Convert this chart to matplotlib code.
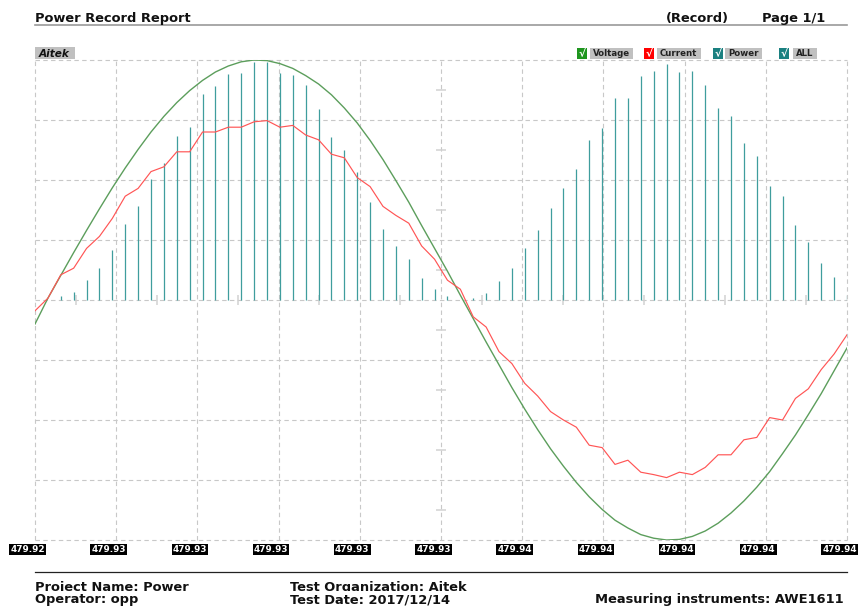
import numpy as np
import matplotlib
matplotlib.use("Agg")
import matplotlib.pyplot as plt
from matplotlib.patches import Rectangle
from matplotlib.lines import Line2D

# =========================
# Data (one cycle, 64 samples, values in grid divisions)
# =========================
voltage = [-0.40, 0.03, 0.41, 0.79, 1.16, 1.52, 1.87, 2.20, 2.51, 2.80,
           3.06, 3.29, 3.49, 3.66, 3.80, 3.90, 3.97, 4.00, 3.99, 3.94,
           3.86, 3.74, 3.60, 3.42, 3.20, 2.95, 2.66, 2.34, 1.99, 1.63,
           1.24, 0.86, 0.48, 0.08, -0.31, -0.70, -1.08, -1.46, -1.82, -2.16,
           -2.48, -2.77, -3.04, -3.28, -3.49, -3.67, -3.80, -3.91, -3.97, -4.00,
           -3.99, -3.94, -3.85, -3.72, -3.55, -3.35, -3.12, -2.86, -2.56, -2.25,
           -1.91, -1.56, -1.18, -0.80]

current = [-0.18, 0.03, 0.42, 0.53, 0.86, 1.06, 1.36, 1.73, 1.86, 2.14,
           2.22, 2.47, 2.47, 2.80, 2.80, 2.88, 2.88, 2.97, 2.99, 2.88,
           2.91, 2.75, 2.67, 2.43, 2.37, 2.04, 1.89, 1.56, 1.41, 1.28,
           0.90, 0.68, 0.33, 0.18, -0.28, -0.45, -0.86, -1.06, -1.39, -1.60,
           -1.86, -2.00, -2.12, -2.42, -2.46, -2.74, -2.67, -2.87, -2.91, -2.96,
           -2.87, -2.91, -2.79, -2.58, -2.58, -2.33, -2.29, -1.96, -2.00, -1.64,
           -1.48, -1.16, -0.90, -0.58]

power = [0.00, 0.00, 0.06, 0.13, 0.33, 0.54, 0.84, 1.27, 1.57, 2.02,
         2.29, 2.73, 2.89, 3.44, 3.57, 3.76, 3.79, 3.97, 3.97, 3.79,
         3.75, 3.58, 3.18, 2.71, 2.50, 2.14, 1.64, 1.18, 0.90, 0.68,
         0.37, 0.18, 0.06, 0.00, 0.04, 0.12, 0.32, 0.53, 0.86, 1.16,
         1.53, 1.87, 2.18, 2.66, 2.87, 3.36, 3.37, 3.73, 3.82, 3.93,
         3.80, 3.82, 3.58, 3.20, 3.07, 2.61, 2.40, 1.90, 1.74, 1.25,
         0.97, 0.62, 0.38, 0.08]

tick_labels = ["479.92", "479.93", "479.93", "479.93", "479.93", "479.93",
               "479.94", "479.94", "479.94", "479.94", "479.94"]

legend_labels = ["Voltage", "Current", "Power", "ALL"]
legend_colors = ["#1f961f", "#ff0000", "#1a8080", "#1a8080"]

footer_left = ["Project Name: Power", "Operator: opp"]
footer_mid = ["Test Organization: Aitek", "Test Date: 2017/12/14"]
footer_right = "Measuring instruments: AWE1611"

# =========================
# Figure
# =========================
W, H = 860, 609
plt.rcParams["font.family"] = ["DejaVu Sans"]


def fx(x):
    return x / W


def fy(y):
    return 1 - y / H


fig = plt.figure(figsize=(W / 100, H / 100), dpi=100)
fig.patch.set_facecolor("white")

ax = fig.add_axes([fx(35), fy(540), 812 / W, 480 / H])
ax.axis("off")

samples = np.arange(len(voltage))
n_last = samples[-1]
ax.set_xlim(0, n_last)
ax.set_ylim(-4, 4)

# grid (dashed, frame included)
grid_kw = dict(color="#c8c8c8", lw=0.8, ls=(0, (4, 3)), clip_on=False, zorder=0)
tick_pos = np.linspace(0, n_last, len(tick_labels))
for x in tick_pos:
    ax.axvline(x, **grid_kw)
for y in range(-4, 5):
    ax.axhline(y, **grid_kw)

# small marks on the centre axes
mid_x = (tick_pos[:-1] + tick_pos[1:]) / 2
ax.vlines(mid_x, -0.09, 0.09, color="#d2d2d2", lw=1.1, zorder=1)
centre = tick_pos[5]
ax.hlines(np.arange(-3.5, 4, 1), centre - 0.35, centre + 0.35,
          color="#d2d2d2", lw=1.1, zorder=1)

# series
ax.vlines(samples, 0, power, color="#3f9d9d", lw=0.9, zorder=2)
ax.plot(samples, voltage, color="#5c9e5c", lw=1.0, zorder=3)
ax.plot(samples, current, color="#ff5555", lw=0.85, zorder=4)

# x tick labels in black boxes
for x, lab in zip(tick_pos, tick_labels):
    ax.annotate(lab, xy=(x, 0), xycoords=("data", "axes fraction"),
                xytext=(-5.4, -6.6), textcoords="offset points",
                ha="center", va="center", fontsize=6.4, fontweight="bold",
                color="white", annotation_clip=False,
                bbox=dict(boxstyle="square,pad=0.12", fc="black", ec="none"))

# =========================
# Header
# =========================
fig.text(fx(35), fy(22), "Power Record Report", fontsize=9.4,
         fontweight="bold", va="baseline", color="#111111")
fig.text(fx(666), fy(22), "(Record)", fontsize=9.4,
         fontweight="bold", va="baseline", color="#111111")
fig.text(fx(762), fy(22), "Page 1/1", fontsize=9.4,
         fontweight="bold", va="baseline", color="#111111")
fig.add_artist(Line2D([fx(35), fx(847)], [fy(25), fy(25)],
                      color="#9a9a9a", lw=1.2))

# brand tag
fig.add_artist(Rectangle((fx(35), fy(58.7)), 40 / W, 12 / H,
                         transform=fig.transFigure, fc="#c0c0c0", ec="none"))
fig.text(fx(38.5), fy(56.8), "Aitek", fontsize=7.6, fontweight="bold",
         style="italic", va="baseline", color="#111111")

# legend
leg_sq = [576.7, 644, 712.7, 779]
leg_box = [(590, 42.7), (657, 43.7), (725, 37), (792.7, 24)]
for sx, (bx, bw), lab, col in zip(leg_sq, leg_box, legend_labels, legend_colors):
    fig.add_artist(Rectangle((fx(sx), fy(58.7)), 10 / W, 10.7 / H,
                             transform=fig.transFigure, fc=col, ec="none"))
    fig.text(fx(sx + 5), fy(57.3), "\u221a", fontsize=7.5, fontweight="bold",
             ha="center", va="baseline", color="white")
    fig.add_artist(Rectangle((fx(bx), fy(58.7)), bw / W, 10.7 / H,
                             transform=fig.transFigure, fc="#c0c0c0", ec="none"))
    fig.text(fx(bx + 3), fy(56.5), lab, fontsize=6.2, fontweight="bold",
             va="baseline", color="#222222")

# =========================
# Footer
# =========================
fig.add_artist(Line2D([fx(35), fx(847)], [fy(571.7), fy(571.7)],
                      color="#222222", lw=0.9))
foot_kw = dict(fontsize=9.4, fontweight="bold", va="baseline", color="#111111")
# second row sits on a white box that trims the descenders of the first row
cover = dict(boxstyle="square,pad=0.18", fc="white", ec="none")
fig.text(fx(35), fy(591.5), footer_left[0], zorder=3, **foot_kw)
fig.text(fx(290), fy(591.5), footer_mid[0], zorder=3, **foot_kw)
fig.text(fx(35), fy(603.5), footer_left[1], zorder=5, bbox=cover, **foot_kw)
fig.text(fx(290), fy(603.5), footer_mid[1], zorder=5, bbox=cover, **foot_kw)
fig.text(fx(595), fy(603.5), footer_right, zorder=5, **foot_kw)

fig.savefig("out.png", dpi=100, facecolor="white")
plt.close(fig)
